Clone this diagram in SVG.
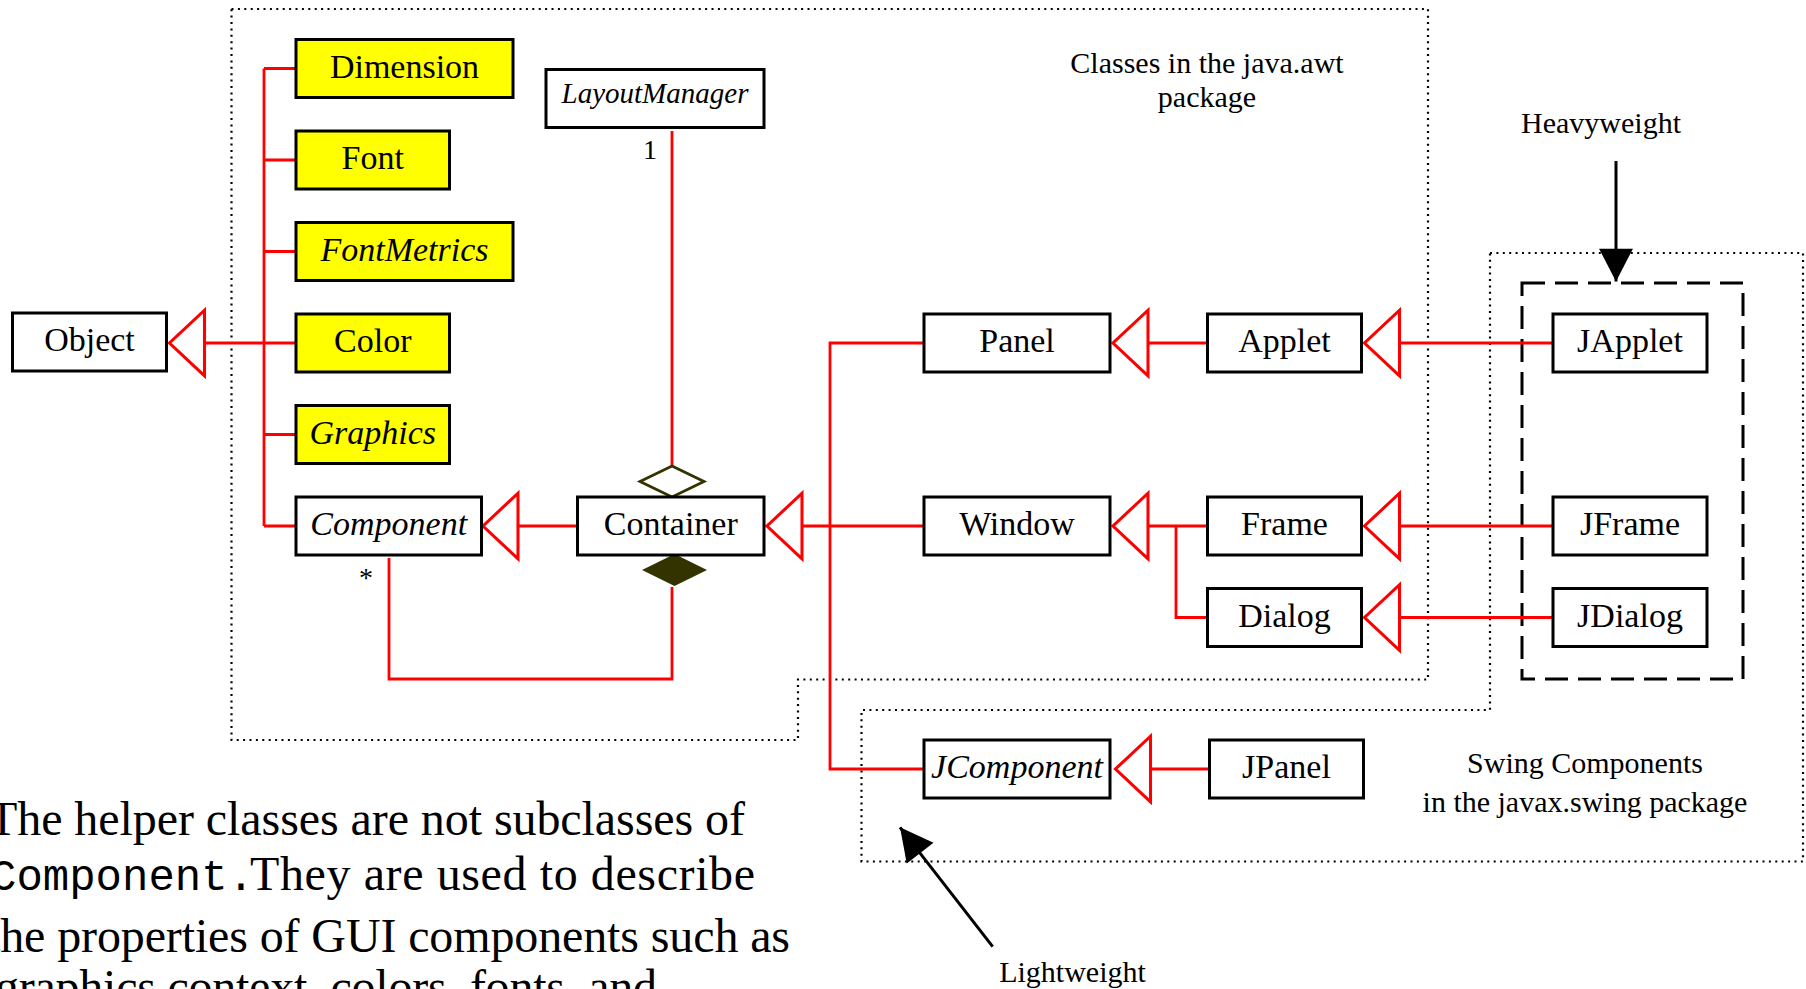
<svg xmlns="http://www.w3.org/2000/svg" width="1806" height="989" viewBox="0 0 1806 989">
<style>
.bg{fill:#ffffff}
.box{fill:#ffffff;stroke:#000000;stroke-width:3}
.helper{fill:#ffff00;stroke:#000000;stroke-width:3}
.t{font-family:"Liberation Serif","Times New Roman",serif;font-size:34px;fill:#000;text-anchor:middle}
.i{font-style:italic}
.lbl{font-family:"Liberation Serif","Times New Roman",serif;font-size:30px;fill:#000;text-anchor:middle}
.body{font-family:"Liberation Serif","Times New Roman",serif;font-size:48px;fill:#000}
.mono{font-family:"Liberation Mono","Courier New",monospace;font-size:44px;fill:#000}
.red{fill:none;stroke:#ff0000;stroke-width:2.8}
.gen{fill:none;stroke:#ff0000;stroke-width:2.8;marker-end:url(#tri)}
.dot{fill:none;stroke:#000;stroke-width:2.2;stroke-dasharray:2 4.4}
.dash{fill:none;stroke:#000;stroke-width:3;stroke-dasharray:23 10}
.blk{fill:none;stroke:#000;stroke-width:3;marker-end:url(#ah)}
</style>
<defs>
<marker id="tri" markerUnits="userSpaceOnUse" markerWidth="40" markerHeight="70" viewBox="-2 -32 36 64" refX="32" refY="0" orient="auto" overflow="visible">
<polygon points="0,-30 32,0 0,30" fill="#ffffff" stroke="#ff0000" stroke-width="2.8"/>
</marker>
<marker id="ah" markerUnits="userSpaceOnUse" markerWidth="34" markerHeight="36" viewBox="0 -17 32 34" refX="31" refY="0" orient="auto" overflow="visible">
<polygon points="0,-16 31,0 0,16" fill="#000000"/>
</marker>
</defs>
<rect class="bg" x="0" y="0" width="1806" height="989"/>

<g id="packages">
<path class="dot" d="M231.5,9 H1428 V679.5 H798 V740 H231.5 Z"/>
<path class="dot" d="M1490,253 H1803 V861.5 H861.5 V710 H1490 Z"/>
<rect class="dash" x="1522" y="283" width="221" height="396"/>
</g>

<g id="connectors">
<path class="red" d="M264,68.5 V526 M264,68.5 H296 M264,160 H296 M264,251.5 H296 M264,434.5 H296 M264,526 H296"/>
<path class="gen" d="M296,343 H169.5"/>
<path class="gen" d="M577.5,526 H483"/>
<path class="gen" d="M924,526 H767"/>
<path class="red" d="M924,343 H830 V769 H924"/>
<path class="gen" d="M1207.5,343 H1113"/>
<path class="gen" d="M1207.5,526 H1113"/>
<path class="red" d="M1176,526 V617.5 H1207.5"/>
<path class="gen" d="M1553,343 H1364.5"/>
<path class="gen" d="M1553,526 H1364.5"/>
<path class="gen" d="M1553,617.5 H1364.5"/>
<path class="gen" d="M1209.5,769 H1115.5"/>
<path class="red" d="M672,131 V466"/>
<polygon points="672,466 704,481.5 672,497 640,481.5" fill="#ffffff" stroke="#333300" stroke-width="2.8"/>
<polygon points="674.5,554 707,570 674.5,586 642,570" fill="#333300"/>
<path class="red" d="M672,587 V679 H389 V558"/>
<text class="lbl" x="650" y="159" style="font-size:28px">1</text>
<text class="lbl" x="366" y="587" style="font-size:28px">*</text>
<path class="blk" d="M1616,161 V281.5"/>
<path class="blk" d="M992.7,946.7 L900,827.3"/>
</g>

<g id="node-object"><rect class="box" x="12.5" y="313" width="154" height="58"/><text class="t" x="89.5" y="351">Object</text></g>
<g id="node-dimension"><rect class="helper" x="296" y="39.5" width="217" height="58"/><text class="t" x="404.5" y="77.5">Dimension</text></g>
<g id="node-font"><rect class="helper" x="296" y="131" width="153.5" height="58"/><text class="t" x="372.75" y="169">Font</text></g>
<g id="node-fontmetrics"><rect class="helper" x="296" y="222.5" width="217" height="58"/><text class="t i" x="404.5" y="260.5">FontMetrics</text></g>
<g id="node-color"><rect class="helper" x="296" y="314" width="153.5" height="58"/><text class="t" x="372.75" y="352">Color</text></g>
<g id="node-graphics"><rect class="helper" x="296" y="405.5" width="153.5" height="58"/><text class="t i" x="372.75" y="443.5">Graphics</text></g>
<g id="node-component"><rect class="box" x="296" y="497" width="185.5" height="58"/><text class="t i" x="388.75" y="535">Component</text></g>
<g id="node-layoutmanager"><rect class="box" x="546" y="69.5" width="218" height="58"/><text class="t i" x="655" y="103" style="font-size:29px">LayoutManager</text></g>
<g id="node-container"><rect class="box" x="577.5" y="497" width="186.5" height="58"/><text class="t" x="670.75" y="535">Container</text></g>
<g id="node-panel"><rect class="box" x="924" y="314" width="186" height="58"/><text class="t" x="1017" y="352">Panel</text></g>
<g id="node-window"><rect class="box" x="924" y="497" width="186" height="58"/><text class="t" x="1017" y="535">Window</text></g>
<g id="node-jcomponent"><rect class="box" x="924" y="740" width="186" height="58"/><text class="t i" x="1017" y="778">JComponent</text></g>
<g id="node-applet"><rect class="box" x="1207.5" y="314" width="154" height="58"/><text class="t" x="1284.5" y="352">Applet</text></g>
<g id="node-frame"><rect class="box" x="1207.5" y="497" width="154" height="58"/><text class="t" x="1284.5" y="535">Frame</text></g>
<g id="node-dialog"><rect class="box" x="1207.5" y="588.5" width="154" height="58"/><text class="t" x="1284.5" y="626.5">Dialog</text></g>
<g id="node-jpanel"><rect class="box" x="1209.5" y="740" width="154" height="58"/><text class="t" x="1286.5" y="778">JPanel</text></g>
<g id="node-japplet"><rect class="box" x="1553" y="314" width="154" height="58"/><text class="t" x="1630" y="352">JApplet</text></g>
<g id="node-jframe"><rect class="box" x="1553" y="497" width="154" height="58"/><text class="t" x="1630" y="535">JFrame</text></g>
<g id="node-jdialog"><rect class="box" x="1553" y="588.5" width="154" height="58"/><text class="t" x="1630" y="626.5">JDialog</text></g>

<g id="labels">
<text class="lbl" x="1207" y="73">Classes in the java.awt</text>
<text class="lbl" x="1207" y="107">package</text>
<text class="lbl" x="1601" y="133">Heavyweight</text>
<text class="lbl" x="1585" y="773">Swing Components</text>
<text class="lbl" x="1585" y="812">in the javax.swing package</text>
<text class="lbl" x="1072.5" y="982">Lightweight</text>
</g>

<g id="caption">
<text class="body" x="-12" y="835" textLength="757">The helper classes are not subclasses of</text>
<text class="mono" x="-10" y="890">Component.</text>
<text class="body" x="250" y="890" textLength="505">They are used to describe</text>
<text class="body" x="-13" y="952" textLength="803">the properties of GUI components such as</text>
<text class="body" x="-5" y="1003" textLength="662">graphics context, colors, fonts, and</text>
</g>
</svg>
